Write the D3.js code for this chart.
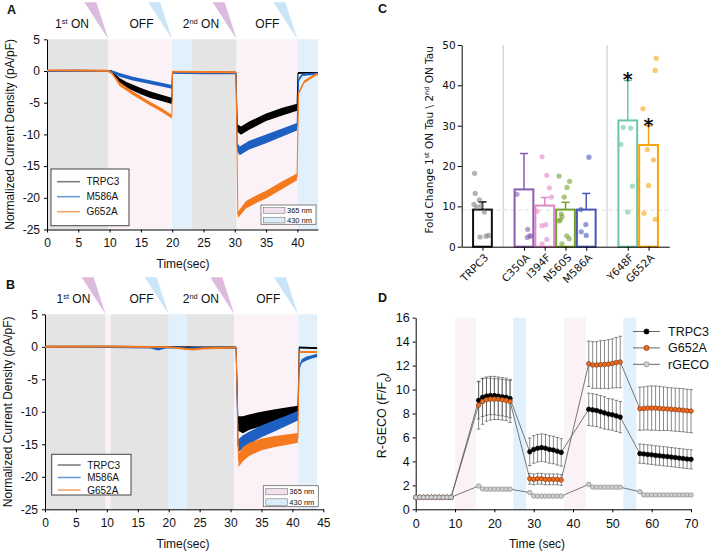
<!DOCTYPE html>
<html><head><meta charset="utf-8">
<script src="https://cdn.jsdelivr.net/npm/d3@7"></script>
<style>
body{margin:0;background:#fff}
svg{display:block}
text{font-family:"Liberation Sans",Arial,sans-serif;fill:#111}
.mpl text{font-family:"DejaVu Sans",sans-serif}
</style>
</head><body>
<svg id="c" width="710" height="556"></svg>
<script>
// ---------------- DATA ----------------
// Panels A/B: current traces [time s, current pA/pF, noise half-width]
const traceNames = ["TRPC3", "M586A", "G652A"];
const A_TRPC3 = [[0,0,0.15],[4.5,0.05,0.15],[9.8,0,0.15],[10.3,-0.1,0.2],[10.8,-0.7,0.3],[11.6,-1.5,0.4],[12.7,-2.2,0.45],[14.8,-3.1,0.5],[16.4,-3.7,0.5],[18,-4.15,0.5],[19.95,-4.7,0.5],[20.05,-0.15,0.15],[25,-0.2,0.15],[30.2,-0.25,0.15],[30.4,-9.0,0.6],[31,-9.4,0.65],[32.3,-8.6,0.65],[35,-7.3,0.6],[37.6,-6.4,0.6],[39.95,-5.7,0.55],[40.1,-0.3,0.15],[43.3,-0.3,0.15]];
const A_M586A = [[0,0,0.15],[9.8,0,0.15],[10.6,-0.15,0.2],[11.6,-0.6,0.3],[13.7,-1.2,0.3],[16.4,-1.75,0.3],[18.5,-2.2,0.3],[19.95,-2.5,0.3],[20.05,-0.3,0.15],[25,-0.35,0.15],[30.2,-0.35,0.15],[30.4,-12.0,0.7],[30.8,-12.6,0.7],[32.3,-11.7,0.7],[35,-10.7,0.7],[37.6,-9.7,0.65],[39.95,-8.8,0.6],[40.2,-1.4,0.3],[40.8,-0.6,0.2],[43.3,-0.4,0.15]];
const A_G652A = [[0,0.1,0.15],[9.8,0.05,0.15],[10.4,-0.4,0.2],[11.6,-2.05,0.3],[13.7,-3.5,0.3],[16.4,-5.1,0.3],[18.2,-6.1,0.3],[19.95,-7.2,0.3],[20.05,-0.1,0.15],[25,-0.15,0.15],[30.2,-0.2,0.15],[30.5,-22.7,0.5],[31.8,-21.1,0.6],[33.5,-20.2,0.6],[35,-19.5,0.6],[37.6,-18.0,0.6],[39.95,-16.7,0.55],[40.2,-3.5,0.3],[41.1,-1.7,0.25],[41.9,-1.2,0.2],[42.9,-0.6,0.2],[43.3,-0.5,0.15]];
const B_TRPC3 = [[0,0,0.15],[10,0,0.15],[20,-0.05,0.15],[25,-0.1,0.15],[30.9,-0.1,0.15],[31.2,-11.8,1.1],[32,-12.0,1.3],[33,-11.6,1.2],[35,-11.1,1.1],[37,-10.6,0.95],[39,-10.2,0.85],[40.9,-9.8,0.75],[41.1,-0.1,0.15],[44,-0.2,0.15]];
const B_M586A = [[0,-0.05,0.15],[10,-0.05,0.15],[17,-0.1,0.15],[18.3,-0.35,0.2],[19.5,-0.1,0.15],[22,-0.1,0.15],[23,-0.3,0.2],[24,-0.2,0.15],[30.9,-0.15,0.15],[31.2,-15.3,1.0],[32,-14.6,1.0],[33,-14.0,0.95],[35,-13.0,0.9],[37,-12.2,0.85],[39,-11.4,0.8],[40.9,-10.6,0.75],[41.1,-3.3,0.3],[41.5,-2.2,0.3],[42.3,-1.8,0.3],[43,-1.6,0.25],[44,-1.3,0.25]];
const B_G652A = [[0,0,0.15],[10,0.05,0.15],[20,-0.05,0.15],[22.5,-0.3,0.15],[24,-0.4,0.15],[25.5,-0.25,0.15],[30.9,-0.1,0.15],[31.3,-17.5,1.0],[32,-16.5,1.1],[33,-15.8,1.0],[35,-15.0,0.9],[37,-14.6,0.85],[39,-14.3,0.8],[40.9,-14.0,0.75],[41.1,-0.8,0.15],[44,-0.8,0.15]];
// light-protocol intervals [start, end, kind]
const A_bands = [[0,9.8,"dark"],[9.8,20,"uv"],[20,23.1,"blue"],[23.1,30.3,"dark"],[30.3,40,"uv"],[40,43.3,"blue"]];
const B_bands = [[0,9.8,"dark"],[9.8,10.6,"uv"],[10.6,20,"dark"],[20,22.9,"blue"],[22.9,30.6,"dark"],[30.6,40.9,"uv"],[40.9,44,"blue"]];
const A_flashes = [[9.8,"uv"],[20,"blue"],[30.3,"uv"],[40,"blue"]];
const B_flashes = [[9.8,"uv"],[20,"blue"],[30.6,"uv"],[40.9,"blue"]];
const phaseLabels = [[["1",""],["st","sup"],[" ON",""]], [["OFF",""]], [["2",""],["nd","sup"],[" ON",""]], [["OFF",""]]];
const A_phaseT = [4.0, 15.1, 24.6, 35.2];
const B_phaseT = [4.6, 15.6, 25.2, 36.1];
const A_xTicks = [0,5,10,15,20,25,30,35,40];
const B_xTicks = [0,5,10,15,20,25,30,35,40,45];
const AB_yTicks = [5,0,-5,-10,-15,-20,-25];
const wavelengths = [["365 nm","uv"],["430 nm","blue"]];

// Panel C
const cCats = ["TRPC3","C350A","I394F","N560S","M586A","Y648F","G652A"];
const cGroup = [0,1,1,1,1,2,2];
const cMean = [9.2,14.2,10.2,9.2,9.2,31.3,25.2];
const cErr = [1.9,8.9,2.0,1.8,4.0,9.9,4.8];
const cSig = [false,false,false,false,false,true,true];
const cRef = 9.1;
const cYTicks = [0,10,20,30,40,50];
// individual cells [jitter in slot units, value]
const cPts = [
  [[-0.38,18.2],[-0.35,13.2],[-0.15,11.6],[-0.41,10.5],[-0.05,10.2],[-0.27,9.8],[0.09,8.6],[-0.12,2.4],[0.17,2.6],[0.3,2.8]],
  [[-0.34,13.0],[0.18,4.3],[0.16,2.3],[0.27,2.7],[0.33,2.6]],
  [[-0.13,22.3],[0.1,17.7],[0.22,14.6],[0.32,12.3],[-0.37,8.8],[-0.13,5.2],[0.05,5.5],[0.1,1.8],[-0.13,0.7]],
  [[-0.31,17.5],[0.2,16.2],[0.07,14.7],[-0.06,12.3],[-0.2,8.1],[-0.17,7.4],[-0.25,6.6],[-0.33,6.4],[0.06,2.7],[0.18,2.0],[-0.17,0.7]],
  [[0.13,22.2],[-0.26,9.2],[-0.02,5.5],[-0.24,3.7],[0,2.8]],
  [[-0.22,29.6],[0.14,29.4],[-0.33,25.4],[0.22,15.0],[0,8.6]],
  [[0.37,46.7],[0.32,43.7],[-0.27,34.2],[-0.06,24.1],[0.24,21.5],[0,15.2],[-0.22,8.3],[0.32,6.8]]
];

// Panel D: R-GECO F/F0 time course
const dTime = [0,1,2,3,4,5,6,7,8,9, 16,17,18,19,20,21,22,23,24, 29,30,31,32,33,34,35,36,37, 44,45,46,47,48,49,50,51,52, 57,58,59,60,61,62,63,64,65,66,67,68,69,70];
const dTRPC3 = [1,1,1,1,1,1,1,1,1,1, 9.1,9.35,9.45,9.5,9.5,9.45,9.4,9.35,9.25, 4.8,5.0,5.1,5.15,5.1,5.0,4.95,4.85,4.75, 8.35,8.3,8.25,8.15,8.05,7.95,7.9,7.8,7.7, 4.65,4.62,4.58,4.55,4.5,4.47,4.43,4.4,4.36,4.32,4.28,4.24,4.2,4.17];
const dTRPC3err = [0,0,0,0,0,0,0,0,0,0, 1.55,1.6,1.6,1.6,1.6,1.6,1.6,1.6,1.6, 1.15,1.15,1.15,1.15,1.15,1.15,1.15,1.15,1.15, 1.35,1.35,1.35,1.35,1.35,1.3,1.3,1.3,1.3, 0.8,0.8,0.8,0.8,0.8,0.8,0.8,0.8,0.8,0.8,0.8,0.8,0.8,0.8];
const dG652A = [1,1,1,1,1,1,1,1,1,1, 8.7,9.0,9.15,9.2,9.2,9.2,9.15,9.1,9.0, 2.55,2.5,2.55,2.55,2.5,2.5,2.5,2.5,2.45, 12.15,12.05,12.05,12.08,12.1,12.12,12.18,12.25,12.3, 8.4,8.42,8.45,8.45,8.45,8.42,8.4,8.38,8.35,8.32,8.3,8.27,8.23,8.2];
const dG652Aerr = [0,0,0,0,0,0,0,0,0,0, 2.0,1.9,1.8,1.75,1.7,1.7,1.7,1.7,1.75, 0.45,0.45,0.45,0.45,0.45,0.45,0.45,0.45,0.45, 1.9,1.95,1.95,2.0,2.0,2.05,2.05,2.1,2.15, 1.8,1.8,1.82,1.85,1.85,1.85,1.82,1.8,1.8,1.8,1.8,1.8,1.8,1.8];
const dRGECO = [1,1,1,1,1,1,1,1,1,1, 1.95,1.7,1.68,1.68,1.68,1.68,1.68,1.68,1.68, 1.4,1.12,1.1,1.1,1.1,1.1,1.1,1.1,1.1, 2.08,1.86,1.84,1.84,1.84,1.84,1.84,1.84,1.84, 1.47,1.2,1.2,1.2,1.2,1.2,1.2,1.2,1.2,1.2,1.2,1.2,1.2,1.2];
const D_bands = [[10,15.3,"uv"],[24.8,28.1,"blue"],[37.7,43.3,"uv"],[52.8,56.1,"blue"]];
const dXTicks = [0,10,20,30,40,50,60,70];
const dYTicks = [0,2,4,6,8,10,12,14,16];
const dSeries = ["TRPC3","G652A","rGECO"];

// ---------------- STYLE ----------------
const svg = d3.select("#c");
const TRACE = {TRPC3:"#000000", M586A:"#1e5fc2", G652A:"#f57a1f"};
const LEG = {TRPC3:"#7f7f7f", M586A:"#6b9fdc", G652A:"#f7a56c"};
const SHADE = {dark:"#e4e4e4", uv:"#fbf2f8", blue:"#e1f0fb"};
const SWATCH = {uv:"#f3e0ee", blue:"#dcedf9"};
const FLASH = {uv:"#d8b4dc", blue:"#c4e2f6"};
const CCOL = ["#111111","#8b5db3","#e287c9","#74a02c","#4759b8","#6cc6a4","#f7a40c"];
const CPT = ["#7f7f7f","#8b5db3","#e287c9","#74a02c","#4759b8","#6cc6a4","#f7a40c"];
const DCOL = {TRPC3:["#000","#000"], G652A:["#f26a1b","#6b3010"], rGECO:["#cfcfcf","#808080"]};

function rich(sel, parts) {
  parts.forEach(([t, k]) => {
    const ts = sel.append("tspan").text(t);
    if (k === "sup") ts.attr("baseline-shift", "super").attr("font-size", "62%");
    if (k === "sub") ts.attr("baseline-shift", "sub").attr("font-size", "70%");
  });
}
function styleAxis(g) {
  g.selectAll("path.domain").attr("stroke", "#000").attr("stroke-width", 1);
  g.selectAll(".tick line").attr("stroke", "#000");
}
function panelLabel(t, x, y) {
  svg.append("text").attr("x", x).attr("y", y).attr("font-size", 12.5).attr("font-weight", "bold").text(t);
}

// ---------------- PANELS A / B ----------------
function tracePanel(o) {
  const g = svg.append("g");
  const x = d3.scaleLinear(o.xDom, o.xRange);
  const y = d3.scaleLinear([-25, 5], o.yRange);
  // bands
  g.selectAll("rect.band").data(o.bands).join("rect")
    .attr("x", d => x(d[0])).attr("width", d => x(d[1]) - x(d[0]))
    .attr("y", y(5)).attr("height", y(-25) - y(5)).attr("fill", d => SHADE[d[2]]);
  // flashes
  const top = y(5);
  g.selectAll("path.flash").data(o.flashes).join("path")
    .attr("d", d => { const tx = x(d[0]); return `M${tx-24},${top-37} L${tx-12},${top-37} L${tx},${top} Z`; })
    .attr("fill", d => FLASH[d[1]]).attr("opacity", 0.9);
  // phase labels
  phaseLabels.forEach((p, i) => {
    const t = g.append("text").attr("x", x(o.phaseT[i])).attr("y", top - 11)
      .attr("text-anchor", "middle").attr("font-size", 12);
    rich(t, p);
  });
  // axes
  const gx = g.append("g").attr("transform", `translate(0,${y(-25)})`)
    .call(d3.axisBottom(x).tickValues(o.xTicks).tickSize(3).tickPadding(6).tickSizeOuter(0).tickFormat(d => String(d)));
  gx.selectAll("text").attr("font-size", 12).attr("fill", "#111");
  styleAxis(gx);
  const gy = g.append("g").attr("transform", `translate(${x(0)},0)`)
    .call(d3.axisLeft(y).tickValues(AB_yTicks).tickSize(3).tickPadding(4).tickSizeOuter(0).tickFormat(d => String(d)));
  gy.selectAll("text").attr("font-size", 12).attr("fill", "#111");
  styleAxis(gy);
  // traces
  o.traces.forEach((pts, i) => {
    const c = TRACE[traceNames[i]];
    g.append("path").datum(pts)
      .attr("d", d3.area().x(d => x(d[0])).y0(d => y(d[1] - d[2])).y1(d => y(d[1] + d[2])))
      .attr("fill", c);
    g.append("path").datum(pts)
      .attr("d", d3.line().x(d => x(d[0])).y(d => y(d[1])))
      .attr("fill", "none").attr("stroke", c).attr("stroke-width", 1);
  });
  // axis titles
  g.append("text").attr("transform", `translate(${o.yTitleX},${(y(5) + y(-25)) / 2}) rotate(-90)`)
    .attr("text-anchor", "middle").attr("font-size", 12).text("Normalized Current Density (pA/pF)");
  g.append("text").attr("x", o.xTitleX).attr("y", o.xTitleY).attr("text-anchor", "middle")
    .attr("font-size", 12).text("Time(sec)");
  // legend
  const L = o.legend;
  g.append("rect").attr("x", L.x).attr("y", L.y).attr("width", L.w).attr("height", L.h)
    .attr("fill", "#fff").attr("stroke", "#444").attr("stroke-width", 1);
  traceNames.forEach((n, i) => {
    const yy = L.y + L.r0 + i * L.dr;
    g.append("line").attr("x1", L.x + 6).attr("x2", L.x + 29).attr("y1", yy).attr("y2", yy)
      .attr("stroke", LEG[n]).attr("stroke-width", 1.6);
    g.append("text").attr("x", L.x + 35.5).attr("y", yy).attr("dy", "0.35em").attr("font-size", 10).text(n);
  });
  // wavelength legend
  const S = o.swatch;
  g.append("rect").attr("x", S.x).attr("y", S.y).attr("width", 55).attr("height", S.h)
    .attr("fill", "#fff").attr("stroke", "#666").attr("stroke-width", 0.8);
  wavelengths.forEach(([lab, k], i) => {
    const yy = S.y + 2.6 + i * (S.h / 2);
    g.append("rect").attr("x", S.x + 2.5).attr("y", yy).attr("width", 21.5).attr("height", S.h / 2 - 4)
      .attr("fill", SWATCH[k]).attr("stroke", "#777").attr("stroke-width", 0.6);
    g.append("text").attr("x", S.x + 26).attr("y", yy + (S.h / 2 - 4) / 2).attr("dy", "0.35em")
      .attr("font-size", 7.5).text(lab);
  });
}

tracePanel({xDom: [0, 43.3], xRange: [47, 318], yRange: [229.5, 39.3], bands: A_bands, flashes: A_flashes,
  phaseT: A_phaseT, xTicks: A_xTicks, traces: [A_TRPC3, A_M586A, A_G652A], yTitleX: 14, xTitleX: 183, xTitleY: 268,
  legend: {x: 51, y: 169, w: 78, h: 56.7, r0: 12.7, dr: 15}, swatch: {x: 261, y: 205, h: 19.3}});
tracePanel({xDom: [0, 45], xRange: [45, 323.3], yRange: [509.3, 314.3], bands: B_bands, flashes: B_flashes,
  phaseT: B_phaseT, xTicks: B_xTicks, traces: [B_TRPC3, B_M586A, B_G652A], yTitleX: 12, xTitleX: 183, xTitleY: 548,
  legend: {x: 51.7, y: 454.3, w: 79.3, h: 40.7, r0: 10.7, dr: 12.5}, swatch: {x: 263.3, y: 485.7, h: 21}});

panelLabel("A", 7, 14);
panelLabel("B", 6, 289);
panelLabel("C", 378, 13);
panelLabel("D", 378, 302);

// ---------------- PANEL C ----------------
(function () {
  const g = svg.append("g").attr("class", "mpl");
  const slot = cCats.map((c, i) => i + cGroup[i]);
  const x = d3.scaleLinear([-1, 9], [461.7, 669.3]);
  const y = d3.scaleLinear([0, 50], [246.7, 45]);
  const bw = (x(1) - x(0));
  // group separators
  const seps = [];
  for (let i = 1; i < cCats.length; i++) if (cGroup[i] !== cGroup[i - 1]) seps.push((slot[i] + slot[i - 1]) / 2);
  g.selectAll("line.sep").data(seps).join("line")
    .attr("x1", d => x(d)).attr("x2", d => x(d)).attr("y1", y(0)).attr("y2", y(50))
    .attr("stroke", "#d0d0d0").attr("stroke-width", 1.2);
  g.append("line").attr("x1", x(-1)).attr("x2", x(9)).attr("y1", y(cRef)).attr("y2", y(cRef))
    .attr("stroke", "#dcdcdc").attr("stroke-width", 1.2).attr("stroke-dasharray", "4,3");
  // bars
  g.selectAll("rect.bar").data(cCats).join("rect")
    .attr("x", (d, i) => x(slot[i]) - bw / 2 + 1).attr("width", bw - 2)
    .attr("y", (d, i) => y(cMean[i])).attr("height", (d, i) => y(0) - y(cMean[i]))
    .attr("fill", "none").attr("stroke", (d, i) => CCOL[i]).attr("stroke-width", 2);
  // error bars
  cCats.forEach((c, i) => {
    const cx = x(slot[i]);
    g.append("line").attr("x1", cx).attr("x2", cx).attr("y1", y(cMean[i])).attr("y2", y(cMean[i] + cErr[i]))
      .attr("stroke", CCOL[i]).attr("stroke-width", 1.5);
    g.append("line").attr("x1", cx - 4).attr("x2", cx + 4).attr("y1", y(cMean[i] + cErr[i])).attr("y2", y(cMean[i] + cErr[i]))
      .attr("stroke", CCOL[i]).attr("stroke-width", 1.5);
    if (cSig[i]) g.append("text").attr("x", cx).attr("y", y(cMean[i] + cErr[i]) + 6).attr("text-anchor", "middle")
      .attr("font-size", 19).attr("font-weight", "bold").text("*");
    g.selectAll(null).data(cPts[i]).join("circle")
      .attr("cx", d => x(slot[i] + d[0])).attr("cy", d => y(d[1])).attr("r", 2.6)
      .attr("fill", CPT[i]).attr("fill-opacity", 0.6);
  });
  // axes
  const gy = g.append("g").attr("transform", `translate(${x(-1)},0)`)
    .call(d3.axisLeft(y).tickValues(cYTicks).tickSize(4).tickPadding(2).tickSizeOuter(0));
  gy.selectAll("text").attr("font-size", 10.5).attr("fill", "#111");
  styleAxis(gy);
  const gx = g.append("g").attr("transform", `translate(0,${y(0)})`)
    .call(d3.axisBottom(x).tickValues(slot).tickSize(4).tickSizeOuter(0).tickFormat(() => ""));
  styleAxis(gx);
  cCats.forEach((c, i) => {
    g.append("text").attr("transform", `translate(${x(slot[i]) + 4},${y(0) + 9}) rotate(-45)`)
      .attr("text-anchor", "end").attr("dy", "0.35em").attr("font-size", 10.5).text(c);
  });
  const t = g.append("text").attr("transform", `translate(433,${(y(0) + y(50)) / 2 - 6}) rotate(-90)`)
    .attr("text-anchor", "middle").attr("font-size", 10.5);
  rich(t, [["Fold Change 1", ""], ["st", "sup"], [" ON Tau \\ 2", ""], ["nd", "sup"], [" ON Tau", ""]]);
})();

// ---------------- PANEL D ----------------
(function () {
  const g = svg.append("g");
  const x = d3.scaleLinear([0, 70], [415.7, 691]);
  const y = d3.scaleLinear([0, 16], [509.3, 317.7]);
  g.selectAll("rect.band").data(D_bands).join("rect")
    .attr("x", d => x(d[0])).attr("width", d => x(d[1]) - x(d[0]))
    .attr("y", y(16)).attr("height", y(0) - y(16)).attr("fill", d => SHADE[d[2]]);
  const gx = g.append("g").attr("transform", `translate(0,${y(0)})`)
    .call(d3.axisBottom(x).tickValues(dXTicks).tickSize(3).tickPadding(7).tickSizeOuter(0));
  gx.selectAll("text").attr("font-size", 12.5).attr("fill", "#111");
  styleAxis(gx);
  const gy = g.append("g").attr("transform", `translate(${x(0)},0)`)
    .call(d3.axisLeft(y).tickValues(dYTicks).tickSize(3).tickPadding(3).tickSizeOuter(0));
  gy.selectAll("text").attr("font-size", 12.5).attr("fill", "#111");
  styleAxis(gy);

  const vals = {TRPC3: dTRPC3, G652A: dG652A, rGECO: dRGECO};
  const errs = {TRPC3: dTRPC3err, G652A: dG652Aerr};
  const line = d3.line().x((d, i) => x(dTime[i])).y(d => y(d));
  dSeries.forEach(s => {
    g.append("path").datum(vals[s]).attr("d", line).attr("fill", "none").attr("stroke", "#555").attr("stroke-width", 0.8);
  });
  ["G652A", "TRPC3"].forEach(s => {
    const v = vals[s], e = errs[s];
    dTime.forEach((t, i) => {
      if (!e[i]) return;
      const cx = x(t);
      g.append("line").attr("x1", cx).attr("x2", cx).attr("y1", y(v[i] - e[i])).attr("y2", y(v[i] + e[i]))
        .attr("stroke", "#555").attr("stroke-width", 0.7);
      [v[i] - e[i], v[i] + e[i]].forEach(yy => g.append("line").attr("x1", cx - 1.8).attr("x2", cx + 1.8)
        .attr("y1", y(yy)).attr("y2", y(yy)).attr("stroke", "#555").attr("stroke-width", 0.7));
    });
  });
  ["TRPC3", "G652A", "rGECO"].forEach(s => {
    g.selectAll(null).data(vals[s]).join("circle")
      .attr("cx", (d, i) => x(dTime[i])).attr("cy", d => y(d)).attr("r", 2.3)
      .attr("fill", DCOL[s][0]).attr("stroke", DCOL[s][1]).attr("stroke-width", 0.6);
  });
  // legend
  dSeries.forEach((s, i) => {
    const yy = 331.5 + i * 16.4;
    g.append("line").attr("x1", 633).attr("x2", 660).attr("y1", yy).attr("y2", yy).attr("stroke", "#555").attr("stroke-width", 0.9);
    g.append("circle").attr("cx", 646.5).attr("cy", yy).attr("r", 2.6).attr("fill", DCOL[s][0]).attr("stroke", DCOL[s][1]).attr("stroke-width", 0.6);
    g.append("text").attr("x", 668).attr("y", yy).attr("dy", "0.35em").attr("font-size", 12.5).text(s);
  });
  const t = g.append("text").attr("transform", `translate(386,${(y(0) + y(16)) / 2 + 2}) rotate(-90)`)
    .attr("text-anchor", "middle").attr("font-size", 12.5);
  rich(t, [["R-GECO (F/F", ""], ["0", "sub"], [")", ""]]);
  g.append("text").attr("x", 537).attr("y", 548).attr("text-anchor", "middle").attr("font-size", 12).text("Time (sec)");
})();
</script>
</body></html>
